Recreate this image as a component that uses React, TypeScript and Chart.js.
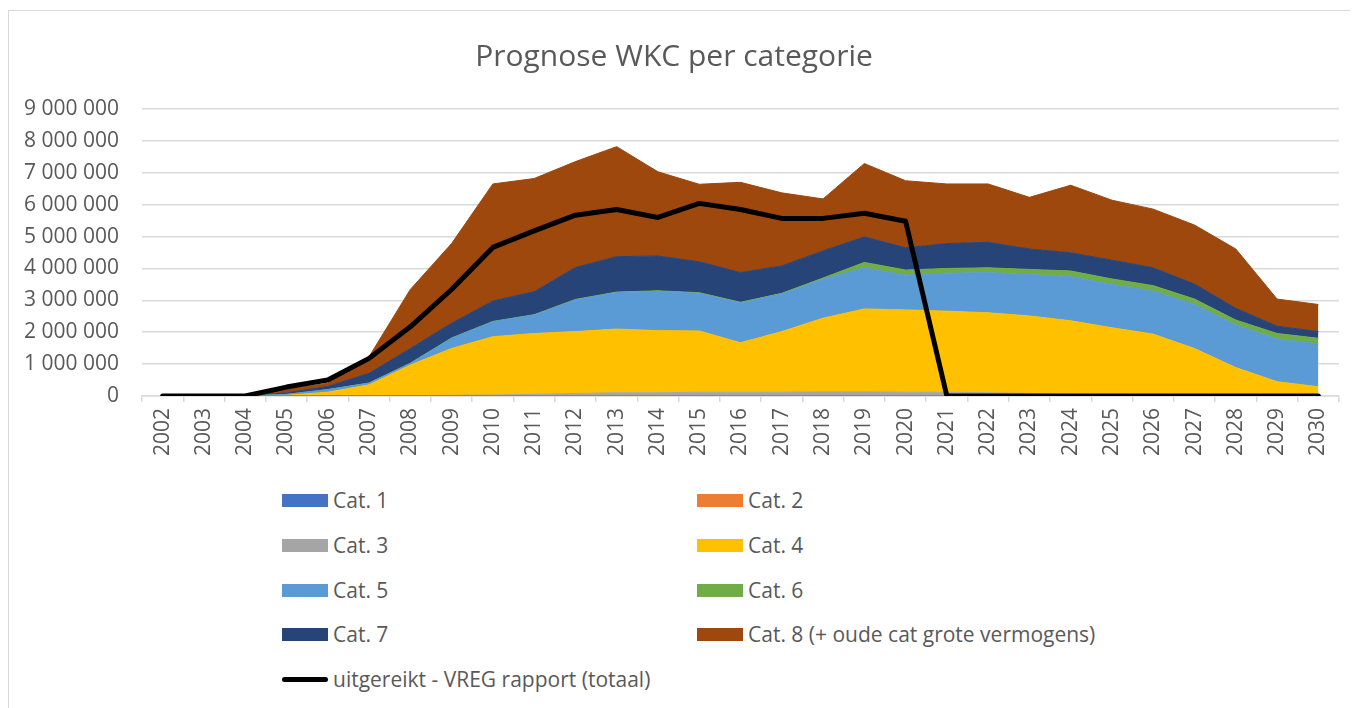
import React, { useEffect, useRef } from "react";
import { Chart, registerables } from "chart.js";

Chart.register(...registerables);

const years = ["2002","2003","2004","2005","2006","2007","2008","2009","2010","2011","2012","2013","2014","2015","2016","2017","2018","2019","2020","2021","2022","2023","2024","2025","2026","2027","2028","2029","2030"];

const cat1 = [0,0,0,0,0,0,0,0,0,0,0,0,0,0,0,0,0,0,0,0,0,0,0,0,0,0,0,0,0];
const cat2 = [0,0,0,0,0,0,0,0,0,0,0,0,0,0,0,0,0,0,0,0,0,0,0,0,0,0,0,0,0];
const cat3 = [0,0,0,0,5000,10000,10000,20000,30000,50000,80000,100000,100000,120000,120000,120000,130000,130000,120000,120000,100000,80000,50000,30000,20000,10000,10000,10000,10000];
const cat4 = [0,0,0,20000,115000,340000,960000,1470000,1830000,1910000,1940000,2000000,1950000,1920000,1550000,1900000,2310000,2600000,2580000,2540000,2510000,2430000,2310000,2110000,1920000,1480000,880000,440000,280000];
const cat5 = [0,0,0,30000,80000,50000,50000,320000,470000,580000,990000,1140000,1230000,1180000,1250000,1180000,1220000,1290000,1090000,1190000,1260000,1300000,1380000,1360000,1350000,1380000,1340000,1340000,1340000];
const cat6 = [0,0,0,0,0,10000,10000,10000,10000,10000,20000,20000,20000,20000,20000,20000,40000,170000,160000,150000,150000,160000,180000,170000,170000,170000,150000,170000,180000];
const cat7 = [0,0,0,50000,100000,300000,460000,460000,640000,720000,1000000,1110000,1090000,970000,930000,860000,850000,800000,700000,780000,800000,640000,570000,590000,560000,470000,370000,230000,210000];
const cat8 = [0,0,0,100000,100000,520000,1850000,2500000,3670000,3550000,3320000,3450000,2640000,2430000,2830000,2290000,1630000,2300000,2100000,1870000,1830000,1620000,2120000,1880000,1840000,1850000,1860000,850000,850000];
const uitgereikt = [0,0,0,280000,500000,1180000,2170000,3340000,4660000,5180000,5670000,5850000,5600000,6040000,5850000,5570000,5570000,5730000,5480000,0,0,0,0,0,0,0,0,0,0];

const areaLabels = ["Cat. 1","Cat. 2","Cat. 3","Cat. 4","Cat. 5","Cat. 6","Cat. 7","Cat. 8 (+ oude cat grote vermogens)"];
const areaColors = ["#4472C4","#ED7D31","#A5A5A5","#FFC000","#5B9BD5","#70AD47","#264478","#9E480E"];
const areaSeries = [cat1, cat2, cat3, cat4, cat5, cat6, cat7, cat8];
const lineLabel = "uitgereikt - VREG rapport (totaal)";
const lineColor = "#000000";

const yMax = 9000000;
const yStep = 1000000;

const FONT = "'Open Sans', 'Noto Sans', sans-serif";
const TEXT = "#595959";

function fmt(v: number) {
  return String(v).replace(/\B(?=(\d{3})+(?!\d))/g, " ");
}

export default function App() {
  const ref = useRef<HTMLCanvasElement | null>(null);

  useEffect(() => {
    if (!ref.current) return;
    const datasets: any[] = areaSeries.map((d, i) => ({
      label: areaLabels[i],
      data: d,
      backgroundColor: areaColors[i],
      borderColor: areaColors[i],
      borderWidth: 1,
      pointRadius: 0,
      pointHoverRadius: 0,
      fill: i === 0 ? "origin" : "-1",
      stack: "areas",
      tension: 0,
      order: 2,
    }));
    datasets.push({
      label: lineLabel,
      data: uitgereikt,
      borderColor: lineColor,
      backgroundColor: lineColor,
      borderWidth: 5,
      borderCapStyle: "round",
      borderJoinStyle: "round",
      pointRadius: 0,
      pointHoverRadius: 0,
      fill: false,
      stack: "line",
      tension: 0,
      order: 0,
    });
    const chart = new Chart(ref.current, {
      type: "line",
      data: { labels: years, datasets },
      options: {
        animation: false,
        responsive: false,
        devicePixelRatio: 1,
        layout: { padding: { left: 0, right: 11, top: 0, bottom: 0 } },
        plugins: {
          legend: { display: false },
          tooltip: { enabled: false },
          title: {
            display: true,
            text: "Prognose WKC per categorie",
            color: TEXT,
            font: { family: FONT, size: 30, weight: "normal" },
            padding: { top: 28, bottom: 34 },
          },
        },
        scales: {
          x: {
            type: "category",
            offset: true,
            grid: {
              offset: true,
              drawOnChartArea: false,
              drawTicks: true,
              tickLength: 6,
              color: "#d9d9d9",
              lineWidth: 1.5,
            },
            border: { display: true, color: "#d9d9d9", width: 1.5 },
            ticks: {
              color: TEXT,
              font: { family: FONT, size: 21 },
              minRotation: 90,
              maxRotation: 90,
              autoSkip: false,
              padding: 6,
            },
            afterFit: (s: any) => {
              s.height = 85;
            },
          },
          y: {
            stacked: true,
            min: 0,
            max: yMax,
            ticks: {
              stepSize: yStep,
              color: TEXT,
              font: { family: FONT, size: 21 },
              padding: 23,
              callback: (v: any) => fmt(Number(v)),
            },
            grid: { color: "#d9d9d9", lineWidth: 1.5, drawTicks: false },
            border: { display: false },
            afterFit: (s: any) => {
              s.width = 133;
            },
          },
        },
      },
    });
    return () => chart.destroy();
  }, []);

  const legendItems = [
    ...areaLabels.map((l, i) => ({ label: l, color: areaColors[i], line: false })),
    { label: lineLabel, color: lineColor, line: true },
  ];
  const colX = [273, 688];
  const rowY = [489, 534, 579, 623, 668];

  return (
    <div
      style={{
        position: "relative",
        width: 1342,
        height: 698,
        marginTop: 2,
        borderTop: "1px solid #d9d9d9",
        borderLeft: "1px solid #d9d9d9",
        boxSizing: "border-box",
        fontFamily: FONT,
      }}
    >
      <canvas ref={ref} width={1341} height={470} style={{ position: "absolute", left: 0, top: 0 }} />
      {legendItems.map((it, i) => {
        const col = i % 2;
        const row = Math.floor(i / 2);
        return (
          <div
            key={it.label}
            style={{
              position: "absolute",
              left: colX[col],
              top: rowY[row] - 15,
              height: 30,
              display: "flex",
              alignItems: "center",
              whiteSpace: "nowrap",
              color: TEXT,
              fontSize: 21,
            }}
          >
            {it.line ? (
              <span style={{ display: "inline-block", width: 46, height: 5, borderRadius: 3, background: it.color, marginRight: 5 }} />
            ) : (
              <span style={{ display: "inline-block", width: 46, height: 13, background: it.color, marginRight: 5 }} />
            )}
            <span>{it.label}</span>
          </div>
        );
      })}
    </div>
  );
}
